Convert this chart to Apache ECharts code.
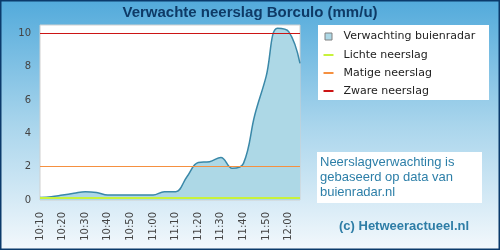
<!DOCTYPE html>
<html>
<head>
<meta charset="utf-8">
<script src="https://cdn.jsdelivr.net/npm/echarts@6/dist/echarts.min.js"></script>
<style>
  html, body { margin: 0; padding: 0; }
  #chart { width: 500px; height: 250px; }
</style>
</head>
<body>
<div id="chart"></div>
<script>
// tijden (elke 5 minuten)
const times = ['10:10', '10:15', '10:20', '10:25', '10:30', '10:35', '10:40', '10:45',
  '10:50', '10:55', '11:00', '11:05', '11:10', '11:15', '11:20', '11:25',
  '11:30', '11:35', '11:40', '11:45', '11:50', '11:55', '12:00', '12:05'];
// verwachte neerslag (mm/u)
const rain = [0.15, 0.2, 0.3, 0.4, 0.5, 0.45, 0.3, 0.3,
  0.3, 0.3, 0.3, 0.5, 0.5, 1.4, 2.25, 2.3,
  2.55, 1.9, 2.2, 5.1, 7.4, 10.3, 10.1, 8.2];
// drempels
const lightLimit = 0.15;
const moderateLimit = 2;
const heavyLimit = 10;

const chart = echarts.init(document.getElementById('chart'));

const thresholdSeries = (name, value, color, width) => ({
  name: name,
  type: 'line',
  data: [],
  z: 5,
  itemStyle: { color: color },
  lineStyle: { color: color },
  markLine: {
    silent: true,
    symbol: 'none',
    label: { show: false },
    lineStyle: { color: color, width: width, type: 'solid' },
    data: [{ yAxis: value }]
  }
});

chart.setOption({
  animation: false,
  backgroundColor: {
    type: 'linear', x: 0, y: 0, x2: 0, y2: 1,
    colorStops: [
      { offset: 0, color: '#52aadb' },
      { offset: 0.5, color: '#a9d5ec' },
      { offset: 1, color: '#f3f8fc' }
    ]
  },
  title: {
    text: 'Verwachte neerslag Borculo (mm/u)',
    left: 'center',
    top: 0,
    textStyle: { fontFamily: 'Liberation Sans', fontSize: 15, fontWeight: 'bold', color: '#0e3a66' }
  },
  grid: {
    left: 40, top: 25, width: 260, height: 175,
    show: true, backgroundColor: '#fff', borderColor: '#d0d0d0', borderWidth: 1
  },
  legend: {
    orient: 'vertical',
    left: 320,
    top: 30,
    padding: 0,
    itemWidth: 16,
    itemHeight: 12,
    itemGap: 6,
    textStyle: { fontFamily: 'DejaVu Sans', fontSize: 11, color: '#222', padding: [0, 0, 0, 2] },
    data: [
      { name: 'Verwachting buienradar', icon: 'path://M0,0M16,12M4.5,2.5h7v7h-7z',
        itemStyle: { color: '#add8e6', borderColor: '#808080', borderWidth: 1 } },
      { name: 'Lichte neerslag', icon: 'path://M0,0M16,12M3,5h10v2h-10z' },
      { name: 'Matige neerslag', icon: 'path://M0,0M16,12M3,5h10v2h-10z' },
      { name: 'Zware neerslag', icon: 'path://M0,0M16,12M3,5h10v2h-10z' }
    ]
  },
  xAxis: {
    type: 'category',
    data: times,
    boundaryGap: false,
    axisLine: { show: false },
    axisTick: { show: false },
    axisLabel: { interval: 1, rotate: 90, margin: 12, fontFamily: 'DejaVu Sans', fontSize: 10, color: '#444' }
  },
  yAxis: {
    type: 'value',
    min: 0,
    max: 10.5,
    interval: 2,
    splitLine: { show: false },
    axisLine: { show: false },
    axisTick: { show: false },
    axisLabel: {
      margin: 9, fontFamily: 'DejaVu Sans', fontSize: 10, color: '#444',
      formatter: v => (v % 2 === 0 ? v : '')
    }
  },
  series: [
    {
      name: 'Verwachting buienradar',
      type: 'line',
      data: rain,
      smooth: 0.4,
      symbol: 'none',
      z: 2,
      itemStyle: { color: '#add8e6' },
      lineStyle: { color: '#3a88a8', width: 1.5 },
      areaStyle: { color: '#add8e6', opacity: 1 }
    },
    thresholdSeries('Lichte neerslag', lightLimit, '#c8f23c', 2),
    thresholdSeries('Matige neerslag', moderateLimit, '#f59040', 1.2),
    thresholdSeries('Zware neerslag', heavyLimit, '#cc1414', 1.2)
  ],
  graphic: [
    { type: 'rect', z: -1, shape: { x: 318, y: 25, width: 171, height: 75 }, style: { fill: '#fff' } },
    { type: 'rect', z: -1, shape: { x: 317, y: 152, width: 165, height: 51 }, style: { fill: '#fff' } },
    {
      type: 'text', left: 320, top: 155,
      style: {
        text: 'Neerslagverwachting is\ngebaseerd op data van\nbuienradar.nl',
        font: '13px "Liberation Sans"', lineHeight: 15, fill: '#2d7fa8'
      }
    },
    {
      type: 'text', left: 339, top: 220,
      style: { text: '(c) Hetweeractueel.nl', font: 'bold 13px "Liberation Sans"', fill: '#2e7da6' }
    },
    {
      type: 'rect', z: 10, silent: true,
      shape: { x: 0.75, y: 0.75, width: 498.5, height: 248.5 },
      style: { fill: 'none', stroke: '#0b3a6b', lineWidth: 1.5 }
    }
  ]
});
</script>
</body>
</html>
